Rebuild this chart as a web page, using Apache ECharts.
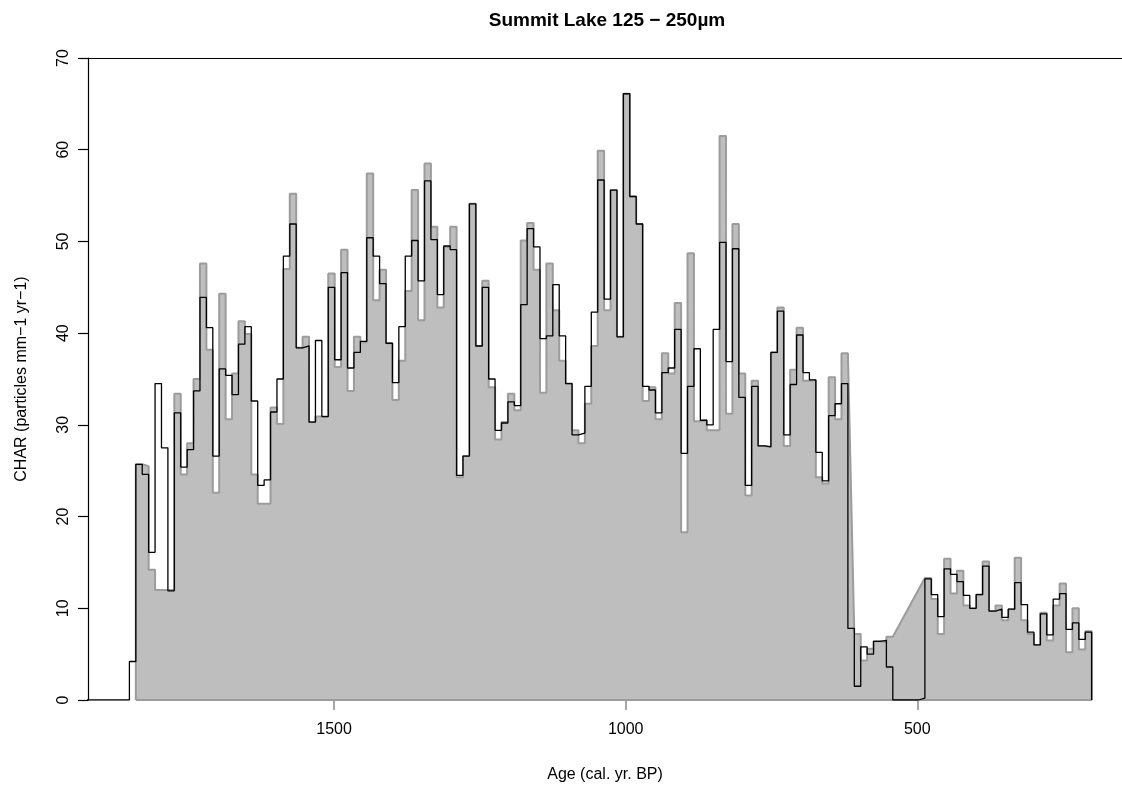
<!DOCTYPE html>
<html>
<head>
<meta charset="utf-8">
<title>Summit Lake 125 - 250um</title>
<script src="https://cdn.jsdelivr.net/npm/echarts@6.0.0/dist/echarts.min.js"></script>
<style>
  html, body { margin: 0; padding: 0; background: #fff; }
  #chart { width: 1122px; height: 785px; }
</style>
</head>
<body>
<div id="chart"></div>
<script>
// bin edges (cal. yr BP), oldest first; one more edge than values
var ageEdges = [1928, 1917, 1906, 1895, 1884, 1873, 1862, 1851, 1840, 1829, 1818, 1807, 1796, 1785, 1774, 1763,
  1752, 1741, 1730, 1719, 1708, 1697, 1686, 1675, 1664, 1653, 1642, 1631, 1620, 1609, 1598, 1587, 1576, 1565,
  1554, 1543, 1532, 1521, 1510, 1499, 1488, 1477, 1466, 1455, 1444, 1433, 1422, 1411, 1400, 1389, 1378, 1367,
  1356, 1345, 1334, 1323, 1312, 1301, 1290, 1279, 1268, 1257, 1246, 1235, 1224, 1213, 1202, 1191, 1180, 1169,
  1158, 1147, 1136, 1125, 1114, 1103, 1092, 1081, 1070, 1059, 1048, 1037, 1026, 1015, 1004, 993, 982, 971,
  960, 949, 938, 927, 916, 905, 894, 883, 872, 861, 850, 839, 828, 817, 806, 795, 784, 773, 762, 751, 740,
  729, 718, 707, 696, 685, 674, 663, 652, 641, 630, 619, 608, 597, 586, 575, 564, 553, 542, 531, 520, 509,
  498, 487, 476, 465, 454, 443, 432, 421, 410, 399, 388, 377, 366, 355, 344, 333, 322, 311, 300, 289, 278,
  267, 256, 245, 234, 223, 212, 201];

// black step line
var charBlack = [0, 0, 0, 0, 0, 0,
  0, 4.2, 25.7, 24.6, 16.1, 34.5, 27.5, 11.9, 31.3, 25.4,
  27.3, 33.7, 43.9, 40.6, 26.6, 36.1, 35.4, 33.3, 38.8, 40.7,
  32.6, 23.4, 24.0, 31.4, 35.0, 48.4, 51.9, 38.4, 38.6, 30.3,
  39.2, 30.9, 45.0, 37.1, 46.6, 36.2, 37.9, 39.1, 50.4, 48.4,
  45.4, 38.9, 34.6, 40.7, 48.4, 50.1, 45.7, 56.6, 50.2, 44.2,
  49.5, 49.1, 24.5, 26.6, 54.1, 38.6, 45.0, 35.0, 29.4, 30.2,
  32.5, 32.1, 43.1, 51.4, 49.4, 39.4, 39.7, 45.3, 39.7, 34.5,
  28.9, 29.1, 34.2, 42.3, 56.7, 43.7, 55.6, 39.6, 66.1, 54.9,
  51.9, 34.2, 33.8, 31.3, 35.7, 36.2, 40.4, 26.9, 34.2, 38.3,
  30.5, 30.0, 40.4, 49.9, 36.9, 49.2, 33.0, 23.4, 34.2, 27.7,
  27.6, 37.9, 42.4, 28.9, 34.4, 39.8, 35.7, 34.9, 27.0, 23.9,
  31.0, 32.3, 34.5, 7.8, 1.5, 5.8, 5.0, 6.4, 6.5, 3.6,
  0, 0, 0, 0, 0.2, 13.2, 11.5, 9.1, 14.3, 13.7,
  12.9, 11.4, 10.0, 11.5, 14.6, 9.7, 9.9, 9.0, 9.9, 12.8,
  10.4, 7.4, 6.0, 9.4, 7.1, 11.0, 11.6, 7.7, 8.4, 6.6,
  7.4];

// grey filled series (null = no value, polygon bridges the gap)
var charGrey = [null, null, null, null, null, null,
  null, null, 25.7, 25.5, 14.2, 12.0, 12.0, 12.0, 33.4, 24.6,
  28.0, 35.0, 47.6, 38.2, 22.6, 44.3, 30.6, 35.6, 41.3, 39.9,
  24.6, 21.4, 21.4, 31.9, 30.1, 47.0, 55.2, 38.4, 39.6, 30.3,
  30.9, 30.9, 46.5, 36.3, 49.1, 33.7, 39.6, 39.0, 57.4, 43.6,
  46.9, 38.9, 32.7, 37.0, 44.6, 55.6, 41.4, 58.5, 51.6, 42.8,
  49.4, 51.6, 24.3, 26.6, 54.1, 38.6, 45.7, 34.1, 28.4, 30.3,
  33.4, 31.6, 50.1, 52.0, 46.9, 33.5, 47.6, 42.5, 37.0, 34.5,
  29.4, 28.0, 32.3, 38.6, 59.9, 42.5, 55.6, 39.6, 66.1, 54.9,
  51.9, 32.6, 34.1, 30.6, 37.8, 35.6, 43.3, 18.3, 48.7, 30.4,
  30.5, 29.4, 29.4, 61.5, 31.2, 51.9, 35.6, 22.3, 34.8, 27.7,
  27.6, 37.9, 42.8, 27.7, 36.0, 40.6, 34.8, 34.9, 24.3, 23.6,
  35.2, 30.6, 37.8, null, 7.2, 4.3, 5.6, 6.4, 6.3, 6.9,
  null, null, null, null, null, 13.3, 11.0, 7.2, 15.4, 11.6,
  14.1, 10.3, 10.0, 11.5, 15.1, 9.7, 10.3, 8.7, 9.9, 15.5,
  8.7, 7.2, 6.0, 9.5, 6.5, 10.3, 12.7, 5.2, 10.0, 5.5,
  7.5];

var ageTicks = [1500, 1000, 500];
var charTicks = [0, 10, 20, 30, 40, 50, 60, 70];

var FONT = "'Liberation Sans', Arial, Helvetica, sans-serif";

// turn bins into step vertices, skipping missing bins
function stepVertices(edges, values) {
  var pts = [];
  for (var i = 0; i < values.length; i++) {
    if (values[i] == null) continue;
    pts.push([edges[i], values[i]], [edges[i + 1], values[i]]);
  }
  return pts;
}

var greyPts = stepVertices(ageEdges, charGrey);
var greyStart = greyPts[0][0], greyEnd = greyPts[greyPts.length - 1][0];
greyPts.unshift([greyStart, 0]);
greyPts.push([greyEnd, 0], [greyStart, 0]);

var blackPts = stepVertices(ageEdges, charBlack);
blackPts.push([ageEdges[ageEdges.length - 1], 0]);

var chart = echarts.init(document.getElementById('chart'), null, { renderer: 'canvas' });

var option = {
  animation: false,
  backgroundColor: '#ffffff',
  textStyle: { fontFamily: FONT },
  grid: { left: 88, right: 0, top: 58, bottom: 85, outerBoundsMode: 'none' },
  graphic: [{
    type: 'text',
    x: 607,
    y: 21,
    style: {
      text: 'Summit Lake 125 \u2212 250\u00b5m',
      font: 'bold 19px ' + FONT,
      fill: '#000',
      textAlign: 'center',
      textVerticalAlign: 'middle'
    }
  }],
  xAxis: [{
    type: 'value',
    inverse: true,
    min: 149,
    max: 1922,
    name: 'Age (cal. yr. BP)',
    nameLocation: 'middle',
    nameGap: 67,
    nameTextStyle: { fontSize: 16, color: '#000', fontFamily: FONT },
    axisLine: { show: false },
    axisTick: { show: true, length: 10, customValues: ageTicks, lineStyle: { color: '#8c8c8c', width: 1.5 } },
    axisLabel: {
      customValues: ageTicks, fontSize: 16, color: '#000', margin: 22, fontFamily: FONT,
      formatter: function(v) { return String(v); }
    },
    splitLine: { show: false }
  }, {
    // top border of the box
    type: 'value',
    position: 'top',
    inverse: true,
    min: 149,
    max: 1922,
    axisLine: { show: true, onZero: false, lineStyle: { color: '#000', width: 1.2 } },
    axisTick: { show: false },
    axisLabel: { show: false },
    splitLine: { show: false }
  }],
  yAxis: {
    type: 'value',
    min: 0,
    max: 70,
    interval: 10,
    name: 'CHAR (particles mm\u22121 yr\u22121)',
    nameLocation: 'middle',
    nameRotate: 90,
    nameGap: 58,
    nameTextStyle: { fontSize: 16, color: '#000', fontFamily: FONT },
    axisLine: { show: true, lineStyle: { color: '#000', width: 1.2 } },
    axisTick: { show: true, length: 10, customValues: charTicks, lineStyle: { color: '#000', width: 1.2 } },
    axisLabel: { rotate: 90, fontSize: 16, color: '#000', margin: 16, fontFamily: FONT, customValues: charTicks },
    splitLine: { show: false }
  },
  series: [{
    name: 'grey',
    type: 'line',
    xAxisIndex: 0,
    data: greyPts,
    showSymbol: false,
    symbol: 'none',
    silent: true,
    lineStyle: { color: '#9c9c9c', width: 2 },
    areaStyle: { color: '#bebebe', opacity: 1 },
    z: 2
  }, {
    name: 'black',
    type: 'line',
    xAxisIndex: 0,
    data: blackPts,
    showSymbol: false,
    symbol: 'none',
    silent: true,
    lineStyle: { color: '#000', width: 1.3 },
    z: 3
  }]
};

chart.setOption(option);
</script>
</body>
</html>
